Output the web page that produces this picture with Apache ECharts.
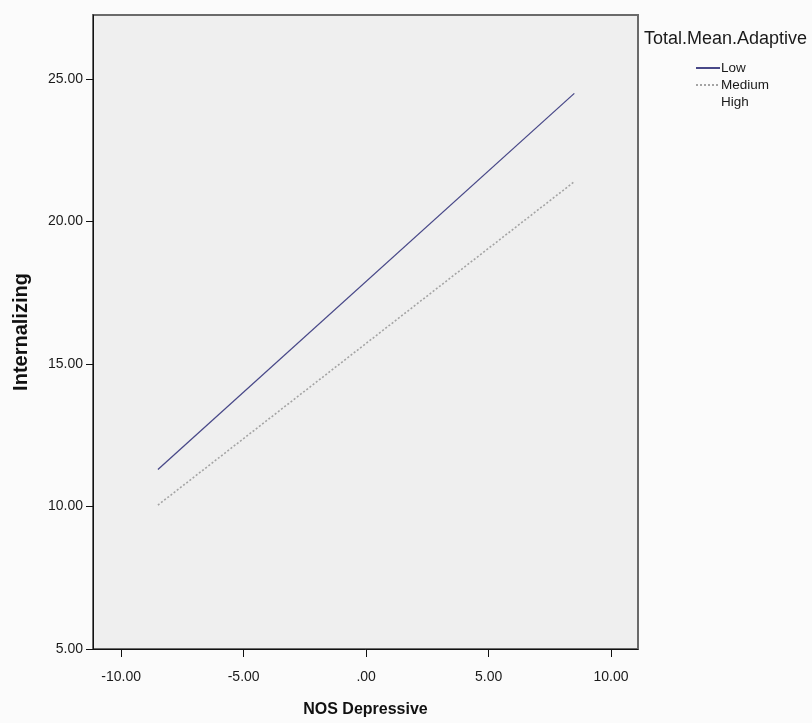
<!DOCTYPE html>
<html>
<head>
<meta charset="utf-8">
<script src="https://cdn.jsdelivr.net/npm/echarts@6/dist/echarts.min.js"></script>
<style>
  html, body { margin: 0; padding: 0; background: #fbfbfb; }
  #chart { width: 812px; height: 723px; }
</style>
</head>
<body>
<div id="chart"></div>
<script>
// Predicted Internalizing across NOS Depressive, by adaptive-behaviour group
const groups = ['Low', 'Medium', 'High'];
const xEnds = [-8.5, 8.5];
const lowValues = [11.3, 24.5];
const mediumValues = [10.05, 21.4];
const highValues = [];
const xTicks = [-10, -5, 0, 5, 10];
const yTicks = [5, 10, 15, 20, 25];

const pairs = (vals) => vals.map((v, i) => [xEnds[i], v]);
const fmt = (v) => (v === 0 ? '.00' : v.toFixed(2));
const font = '"Liberation Sans", Arial, sans-serif';

const chart = echarts.init(document.getElementById('chart'), null, { renderer: 'canvas' });
chart.setOption({
  backgroundColor: '#fbfbfb',
  animation: false,
  title: {
    text: 'Total.Mean.Adaptive',
    left: 639, top: 25,
    textStyle: { fontFamily: font, fontSize: 18, fontWeight: 'normal', color: '#1a1a1a' }
  },
  legend: {
    orient: 'vertical',
    left: 690, top: 56,
    itemWidth: 24, itemHeight: 12, itemGap: 3,
    data: groups,
    itemStyle: { opacity: 0 },
    textStyle: { fontFamily: font, fontSize: 13.5, color: '#1a1a1a', padding: [0, 0, 0, -4] }
  },
  grid: {
    left: 93, top: 15, right: 174, bottom: 68,
    show: true,
    backgroundColor: '#efefef',
    borderColor: '#6a6a6a',
    borderWidth: 2
  },
  xAxis: {
    type: 'value',
    min: -11.15, max: 11.1,
    name: 'NOS Depressive',
    nameLocation: 'middle',
    nameGap: 53,
    nameTextStyle: { fontFamily: font, fontSize: 16, fontWeight: 'bold', color: '#111' },
    splitLine: { show: false },
    axisLine: { show: true, onZero: false, lineStyle: { color: '#111', width: 1 } },
    axisTick: { show: true, length: 8, customValues: xTicks, lineStyle: { color: '#111' } },
    axisLabel: {
      customValues: xTicks, formatter: fmt, margin: 21,
      fontFamily: font, fontSize: 14, color: '#1a1a1a'
    }
  },
  yAxis: {
    type: 'value',
    min: 5, max: 27.25,
    name: 'Internalizing',
    nameLocation: 'middle',
    nameGap: 62,
    nameRotate: 90,
    nameTextStyle: { fontFamily: font, fontSize: 20, fontWeight: 'bold', color: '#111' },
    splitLine: { show: false },
    axisLine: { show: true, onZero: false, lineStyle: { color: '#111', width: 1 } },
    axisTick: { show: true, length: 7, customValues: yTicks, lineStyle: { color: '#111' } },
    axisLabel: {
      customValues: yTicks, formatter: fmt, margin: 10,
      fontFamily: font, fontSize: 14, color: '#1a1a1a'
    }
  },
  series: [
    {
      name: 'Low', type: 'line', symbol: 'none',
      data: pairs(lowValues),
      lineStyle: { color: '#484888', width: 1.3 },
      itemStyle: { color: '#8a8a8a' }
    },
    {
      name: 'Medium', type: 'line', symbol: 'none',
      data: pairs(mediumValues),
      lineStyle: { color: '#a4a4a4', width: 1.6, type: [2, 2] },
      itemStyle: { color: '#a4a4a4' }
    },
    {
      name: 'High', type: 'line', symbol: 'none',
      data: pairs(highValues),
      lineStyle: { color: 'rgba(0,0,0,0)', width: 1 },
      itemStyle: { color: 'rgba(0,0,0,0)' }
    }
  ]
});
</script>
</body>
</html>
